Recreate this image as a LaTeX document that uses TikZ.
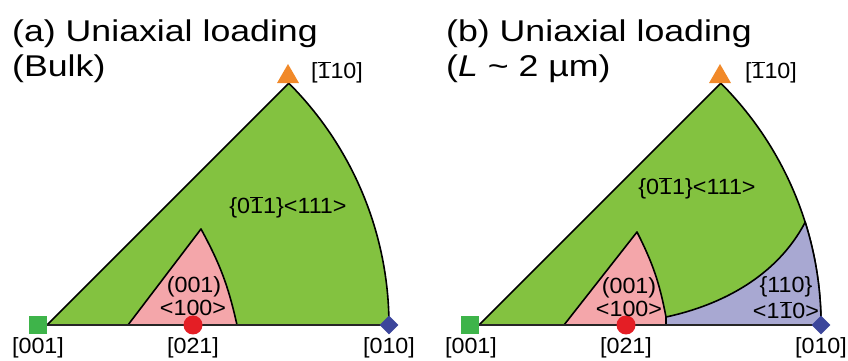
\documentclass[tikz,border=0pt]{standalone}
\usepackage{fontspec}
\setmainfont{Liberation Sans}[FakeStretch=1.06]
\newfontfamily\titlefont{Liberation Sans}[FakeStretch=1.19]
\usetikzlibrary{shapes.geometric}

\definecolor{greenfill}{RGB}{131,194,64}
\definecolor{pinkfill}{RGB}{244,166,170}
\definecolor{bluefill}{RGB}{168,168,210}
\definecolor{sqgreen}{RGB}{62,180,74}
\definecolor{dotred}{RGB}{228,30,37}
\definecolor{diablue}{RGB}{60,70,155}
\definecolor{triorange}{RGB}{241,137,41}

\newcommand{\barone}{$\overline{\mbox{1}}$}

\begin{document}
\begin{tikzpicture}[
        x=1pt, y=1pt,
        region/.style={draw=black, line width=1.6pt, line join=round},
        baseedge/.style={draw=black!85, line width=2.4pt},
        title/.style={font=\titlefont\fontsize{30}{35}\selectfont, anchor=base west, inner sep=0},
        lbl/.style={font=\fontsize{22}{24}\selectfont, inner sep=0, align=center},
        sqmark/.style={rectangle, fill=sqgreen, minimum size=18pt, inner sep=0},
        dotmark/.style={circle, fill=dotred, minimum size=19pt, inner sep=0},
        diamark/.style={diamond, fill=diablue, minimum size=19pt, inner sep=0},
        trimark/.style={regular polygon, regular polygon sides=3, fill=triorange,
                        minimum size=25.4pt, inner sep=0}
    ]
        \useasboundingbox (0,0) rectangle (848,361);

        % (a) bulk
        \node[title] (titlea) at (12,319) {(a) Uniaxial loading};
        \node[title] (bulka) at (12,284) {(Bulk)};
        \coordinate (oa) at (47,36);
        \coordinate (ta) at (288.8,277.8);
        \coordinate (ea) at (389,36);
        \draw[region, fill=greenfill] (oa) -- (ta)
            arc[start angle=45, end angle=0, radius=342] -- cycle;
        \draw[region, fill=pinkfill] (128,36) -- (201,132) to[bend left=8] (237,36) -- cycle;
        \draw[baseedge] (oa) -- (ea);
        \node[sqmark] (sqa) at (38,36) {};
        \node[dotmark] (dota) at (193,36) {};
        \node[diamark] (diaa) at (389,36) {};
        \node[trimark] (tria) at (288,284.3) {};
        \node[lbl] (l001a) at (38,13) {[001]};
        \node[lbl] (l021a) at (193,13) {[021]};
        \node[lbl] (l010a) at (389,13) {[010]};
        \node[lbl] (l110a) at (337,289) {[\barone10]};
        \node[lbl] (slipa) at (288,154) {\{0\barone1\}<111>};
        \node[lbl] (cuba) at (194,74) {(001)};
        \node[lbl] (cubdira) at (193,53) {<100>};

        % (b) L ~ 2 um
        \begin{scope}[xshift=432pt]
        \node[title] (titleb) at (14,319) {(b) Uniaxial loading};
        \node[title] (sizeb) at (14,284) {(\textit{L} \textasciitilde{} 2 µm)};
        \coordinate (ob) at (47,36);
        \coordinate (tb) at (288.8,277.8);
        \coordinate (eb) at (389,36);
        \coordinate (kb) at (234,44);
        \draw[region, fill=greenfill] (ob) -- (tb)
            arc[start angle=45, end angle=0, radius=342] -- cycle;
        \draw[region, fill=bluefill] (kb) .. controls (290,56) and (345,85) .. (373.2,138.8)
            arc[start angle=17.5, end angle=0, radius=342] -- (234,36) -- cycle;
        \draw[region, fill=pinkfill] (132,36) -- (205,129) to[bend left=8] (kb) -- (234,36) -- cycle;
        \draw[baseedge] (ob) -- (eb);
        \node[sqmark] (sqb) at (38,36) {};
        \node[dotmark] (dotb) at (194,36) {};
        \node[diamark] (diab) at (389,36) {};
        \node[trimark] (trib) at (288,284.3) {};
        \node[lbl] (l001b) at (39,13) {[001]};
        \node[lbl] (l021b) at (194,13) {[021]};
        \node[lbl] (l010b) at (389,13) {[010]};
        \node[lbl] (l110b) at (339,289) {[\barone10]};
        \node[lbl] (slipb) at (265,173) {\{0\barone1\}<111>};
        \node[lbl] (cubb) at (197,73) {(001)};
        \node[lbl] (cubdirb) at (197,52) {<100>};
        \node[lbl] (planeb) at (354,74) {\{110\}};
        \node[lbl] (planedirb) at (354,51) {<1\barone0>};
        \end{scope}
    \end{tikzpicture}
\end{document}
